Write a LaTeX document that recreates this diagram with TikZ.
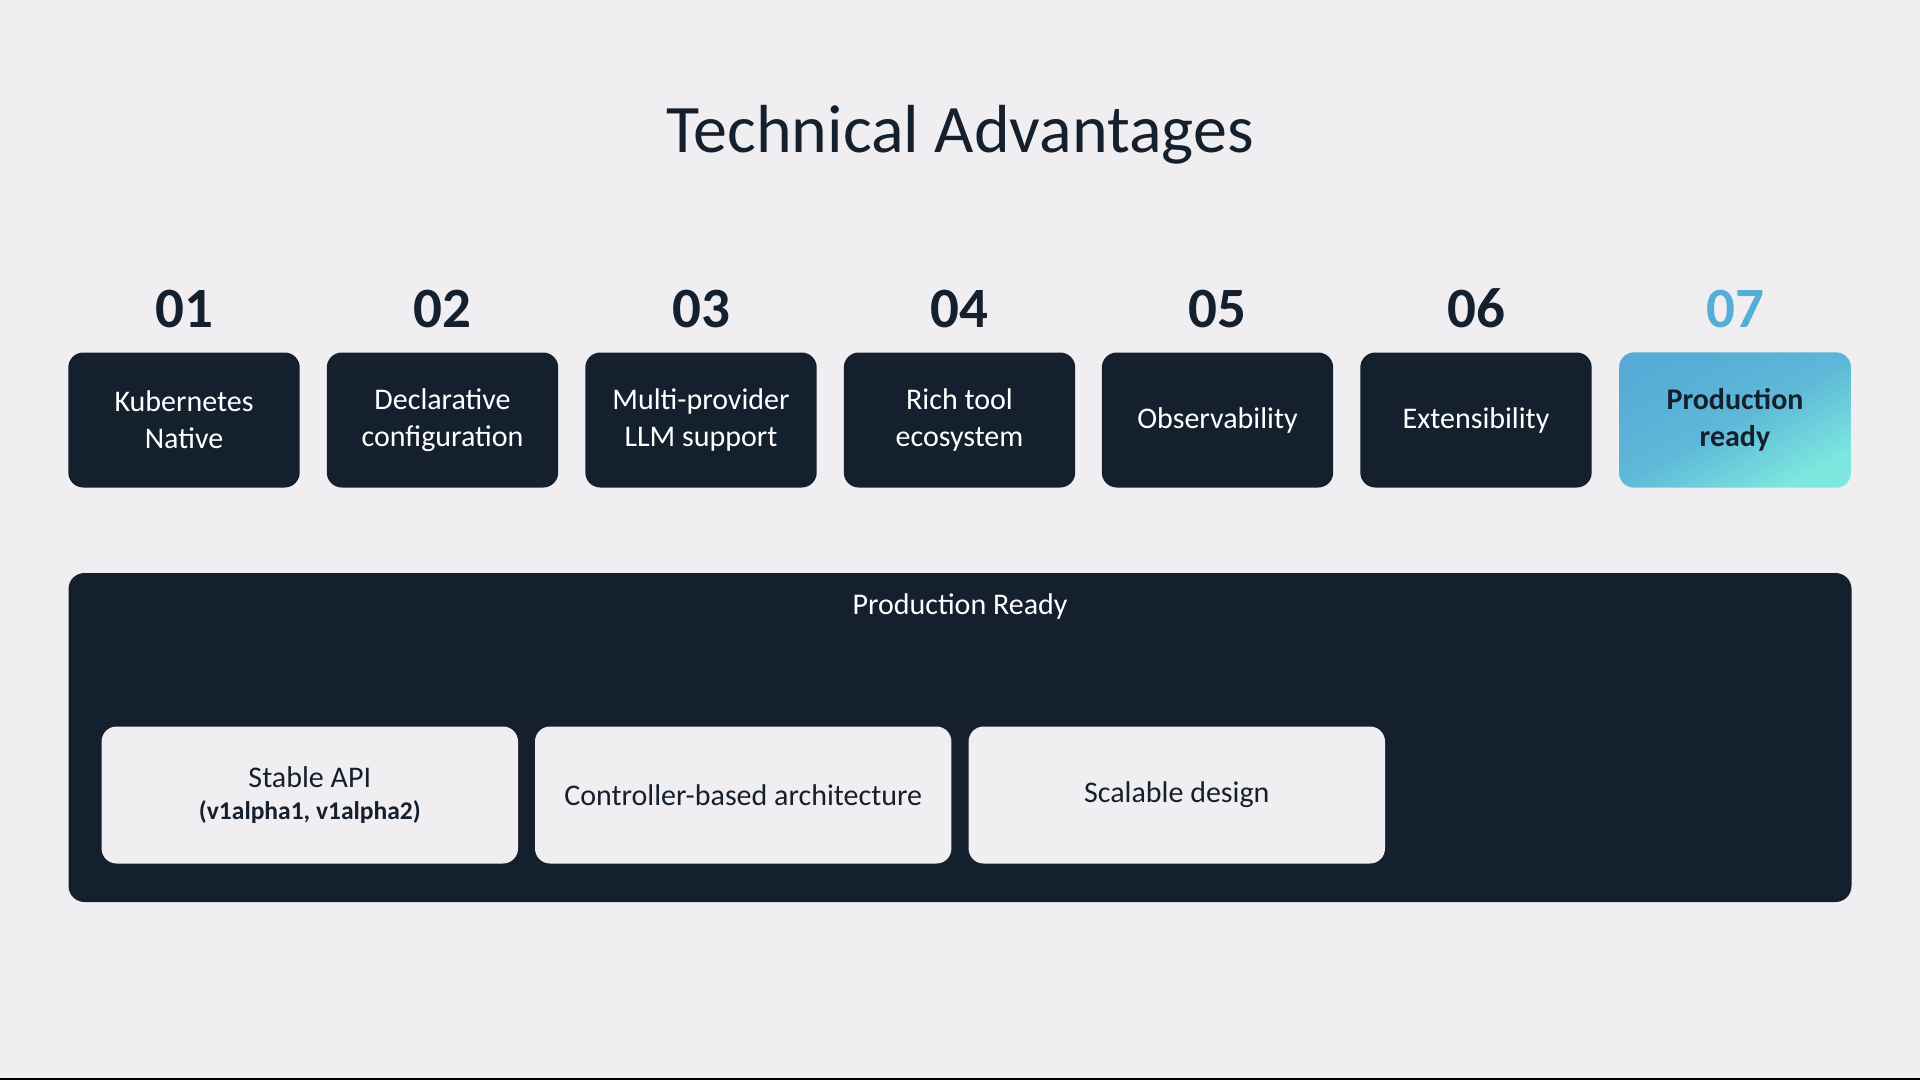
\documentclass[tikz,border=0pt]{standalone}
\usepackage{fontspec}
\setmainfont{Carlito}
\definecolor{bg}{HTML}{F0EEF1}
\definecolor{navy}{HTML}{15202E}
\definecolor{cyanA}{HTML}{56ACD6}
\definecolor{cyanB}{HTML}{7DE8DF}
\definecolor{num7}{HTML}{55AED6}
\tikzset{
  card/.style={rectangle, rounded corners=15pt, fill=navy, minimum width=231.4pt, minimum height=135pt, inner sep=0pt,
     text=white, align=center, font=\fontsize{30}{37}\selectfont},
  numlbl/.style={anchor=base, text=navy, font=\fontsize{57}{57}\selectfont\bfseries, inner sep=0pt},
  subcard/.style={rectangle, rounded corners=15pt, fill=bg, minimum width=416.4pt, minimum height=137pt, inner sep=0pt,
     text=navy, align=center, font=\fontsize{30}{35}\selectfont},
}
\begin{document}
\begin{tikzpicture}[x=1pt, y=-1pt]
\fill[bg] (0,0) rectangle (1920,1080);
\useasboundingbox (0,0) rectangle (1920,1080);
\fill[black] (0,1077.5) rectangle (1920,1080);

\node[anchor=base, text=navy, font=\fontsize{68}{68}\selectfont, inner sep=0pt] (title) at (960,152) {Technical Advantages};

% numbers
\node[numlbl] (n1) at (184,327) {01};
\node[numlbl] (n2) at (442.5,327) {02};
\node[numlbl] (n3) at (701,327) {03};
\node[numlbl] (n4) at (959.5,327) {04};
\node[numlbl] (n5) at (1217.5,327) {05};
\node[numlbl] (n6) at (1476,327) {06};
\node[numlbl, text=num7] (n7) at (1735,327) {07};

% cards
\node[card] (c1) at (184,420) {Kubernetes\\Native};
\node[card] (c2) at (442.5,420) {Declarative\\configuration};
\node[card] (c3) at (701,420) {Multi-provider\\LLM support};
\node[card] (c4) at (959.5,420) {Rich tool\\ecosystem};
\node[card] (c5) at (1217.5,420) {Observability};
\node[card] (c6) at (1476,420) {Extensibility};
\node[card, fill=none] (c7) at (1735,420) {};
\shade[rounded corners=15pt, left color=cyanA, right color=cyanB, middle color=cyanA!80!cyanB, shading angle=28]
  (c7.north west) rectangle (c7.south east);
\node[text=navy, align=center, font=\fontsize{30}{37}\selectfont\bfseries] (c7t) at (c7.center) {Production\\ready};

% panel
\node[rectangle, rounded corners=16pt, fill=navy, minimum width=1783pt, minimum height=329pt, inner sep=0pt] (panel) at (960,737.5) {};
\node[anchor=base, text=white, font=\fontsize{30}{35}\selectfont, inner sep=0pt] (ptitle) at (960,614) {Production Ready};

\node[subcard] (s1) at (309.8,795) {Stable API\\[-3pt]{\fontsize{25.5}{30}\selectfont\bfseries (v1alpha1, v1alpha2)}};
\node[subcard] (s2) at (743.2,795) {Controller-based architecture};
\node[subcard] (s3) at (1176.8,795) {Scalable design};
\end{tikzpicture}
\end{document}
